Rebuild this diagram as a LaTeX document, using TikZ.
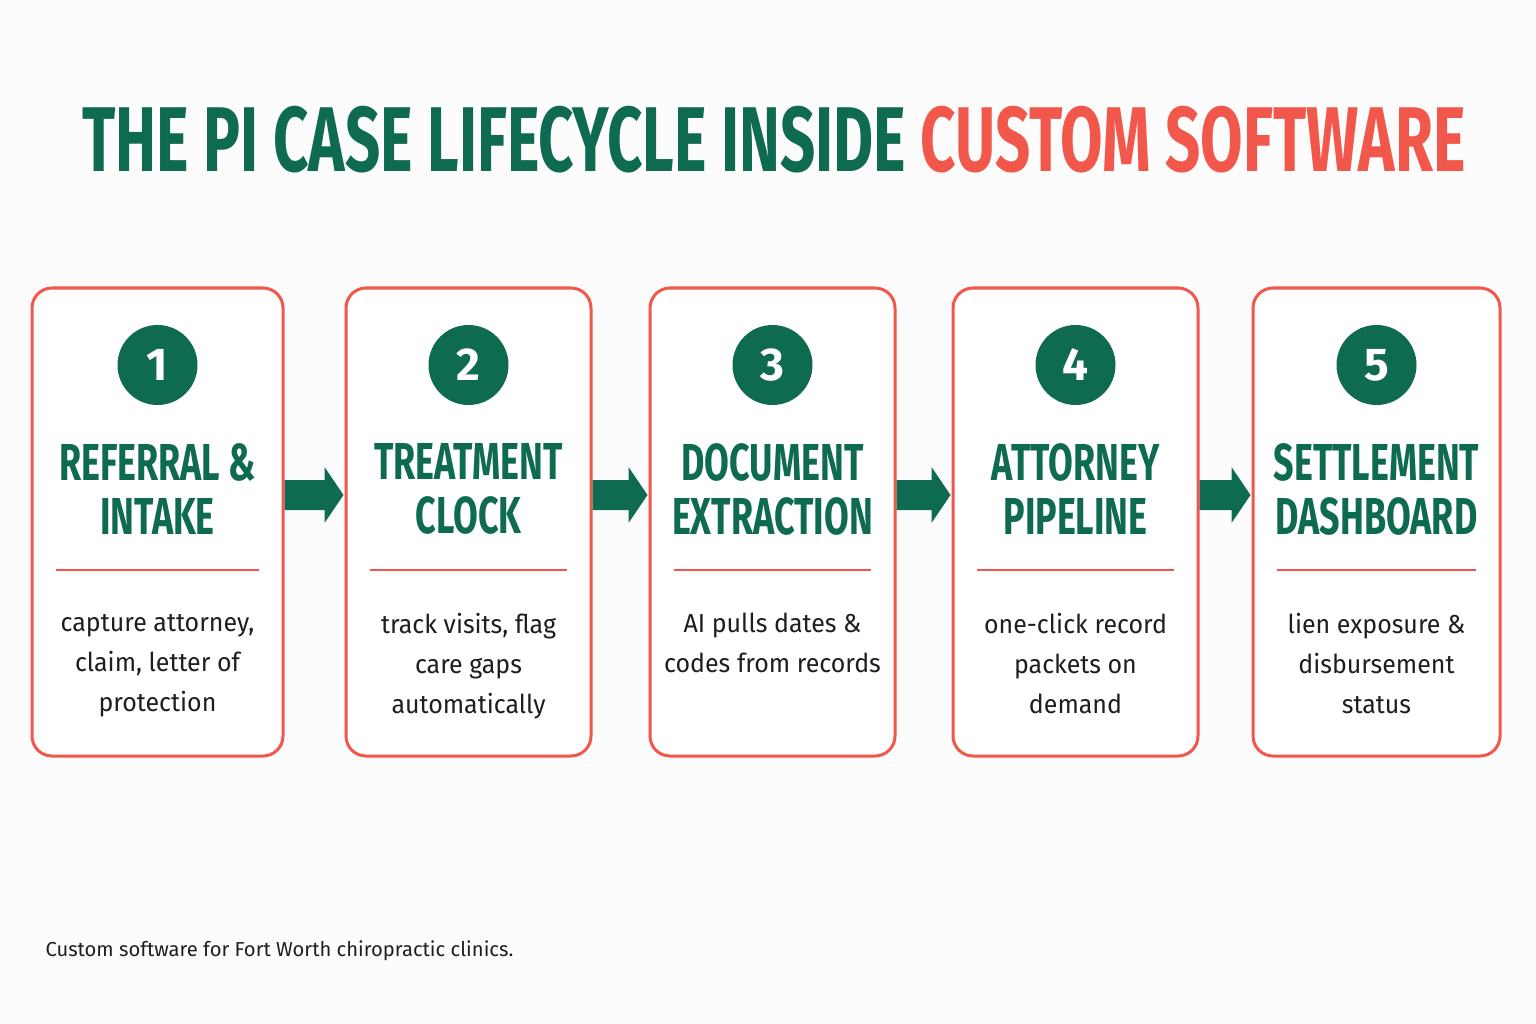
\documentclass[tikz,border=0pt]{standalone}
\usepackage{fontspec}
\setmainfont{Fira Sans}
\newfontfamily\headf{Fira Sans}[UprightFont={* Bold}]
\definecolor{pgreen}{HTML}{0E6B52}
\definecolor{pred}{HTML}{F2574B}
\definecolor{ptext}{HTML}{1E1E1E}
\begin{document}
\begin{tikzpicture}[x=1pt,y=-1pt,
 box/.style={draw=pred,line width=3pt,rounded corners=20pt,fill=white},
 num/.style={circle,fill=pgreen,minimum size=80pt,inner sep=0pt,text=white,font=\headf\fontsize{46}{46}\selectfont},
 head/.style={text=pgreen,align=center,font=\headf\fontsize{52}{56}\selectfont},
 body/.style={text=ptext,align=center,font=\fontsize{26}{40}\selectfont},
 arr/.style={fill=pgreen,draw=none}]
\fill[white!99!black] (0,0) rectangle (1536,1024);
\useasboundingbox (0,0) rectangle (1536,1024);
\node (title) at (774,140) {\scalebox{0.67}[1]{\headf\fontsize{92}{92}\selectfont\color{pgreen}THE PI CASE LIFECYCLE INSIDE \color{pred}CUSTOM SOFTWARE}};
\foreach \i/\xa/\xb/\ha/\hb/\ba/\bb/\bc in {
 1/32/283/REFERRAL \&/INTAKE/{capture attorney,}/{claim, letter of}/protection,
 2/346/591/TREATMENT/CLOCK/{track visits, flag}/care gaps/automatically,
 3/650/895/DOCUMENT/EXTRACTION/AI pulls dates \&/codes from records/{},
 4/953/1198/ATTORNEY/PIPELINE/one-click record/packets on/demand,
 5/1253/1500/SETTLEMENT/DASHBOARD/lien exposure \&/disbursement/status}{
 \pgfmathsetmacro\cx{(\xa+\xb)/2}
 \node[box,minimum width={\xb-\xa},minimum height=468pt] (b\i) at (\cx,522) {};
 \node[num] (n\i) at (\cx,365) {\i};
 \node[head] (h\i) at (\cx,489) {\scalebox{0.69}[1]{\ha}\\[-2pt]\scalebox{0.69}[1]{\hb}};
 \draw[pred,line width=1.5pt] (\xa+24,570) -- (\xb-24,570);
 \node[body] (t\i) at (\cx,669) {\scalebox{0.96}[1]{\ba}\\\scalebox{0.96}[1]{\bb}\\\scalebox{0.96}[1]{\bc}\strut};
}
\foreach \a/\b in {1/2,2/3,3/4,4/5}{
 \path (b\a.east) coordinate (s) (b\b.west) coordinate (e);
 \fill[pgreen] ([yshift=15pt]s |- 0,495) -- ([xshift=-20pt,yshift=15pt]e |- 0,495) -- ([xshift=-20pt,yshift=28pt]e |- 0,495) -- ([xshift=-1pt]e |- 0,495) -- ([xshift=-20pt,yshift=-28pt]e |- 0,495) -- ([xshift=-20pt,yshift=-15pt]e |- 0,495) -- ([yshift=-15pt]s |- 0,495) -- cycle;
}
\node[anchor=west,text=ptext,font=\fontsize{20.2}{21}\selectfont] (foot) at (42,951) {Custom software for Fort Worth chiropractic clinics.};
\end{tikzpicture}
\end{document}
